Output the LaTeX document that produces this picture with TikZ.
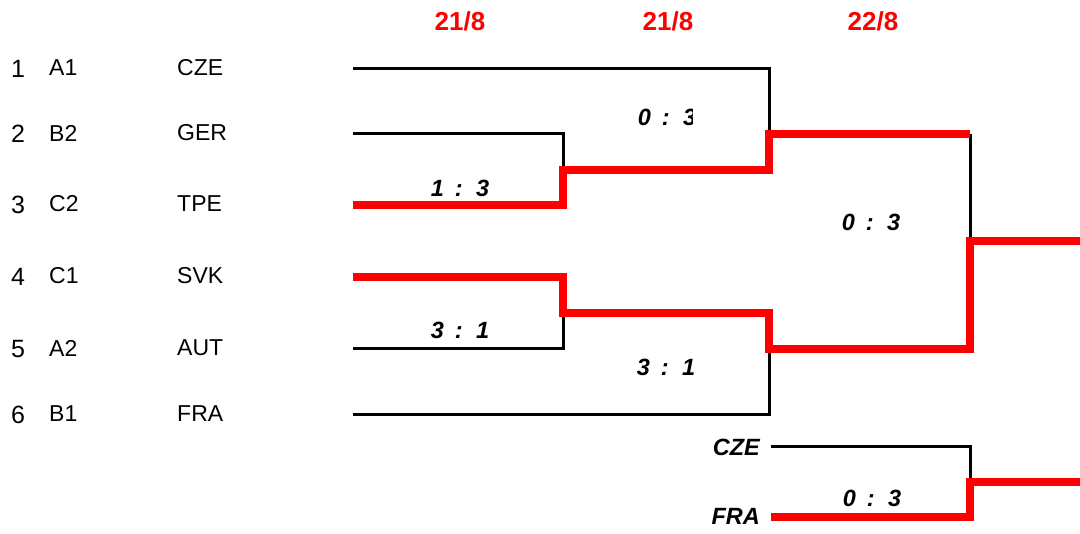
\documentclass[tikz,border=0pt]{standalone}
\usepackage{fontspec}
\setmainfont{Liberation Sans}
\usetikzlibrary{positioning}

\newcommand{\res}[2]{#1\hspace{4.5pt} : \hspace{4.5pt}#2}

\begin{document}
\begin{tikzpicture}[x=1pt,y=-1pt,
  every node/.style={font=\fontsize{23}{27}\selectfont, inner sep=0pt},
  team/.style={anchor=west},
  seed/.style={font=\fontsize{25}{29}\selectfont},
  score/.style={font=\fontsize{23.5}{27}\selectfont\bfseries\itshape},
  day/.style={font=\fontsize{26}{30}\selectfont\bfseries, text=red},
  lost/.style={line width=3pt},
  won/.style={line width=8pt, red}]
\useasboundingbox (0,0) rectangle (1080,534);

% match days
\node[day] (d1) at (460,21) {21/8};
\node[day] (d2) at (668,21) {21/8};
\node[day] (d3) at (873,21) {22/8};

% draw order
\foreach \n/\g/\t/\y in {1/A1/CZE/69, 2/B2/GER/134, 3/C2/TPE/205,
                        4/C1/SVK/277, 5/A2/AUT/349, 6/B1/FRA/415}{
  \node[seed] (n\n) at (18,\y) {\n};
  \node[team] (g\n) at (49,\y-1) {\g};
  \node[team] (t\n) at (177,\y-1) {\t};
  \coordinate (s\n) at (353,\y);
}

% winners' points
\coordinate (wA) at (563,170);
\coordinate (wB) at (563,313);
\coordinate (wC) at (769,134);
\coordinate (wD) at (769,349);
\coordinate (cF) at (970,134);
\coordinate (wF) at (970,241);
\coordinate (eF) at (1080,241);

% bronze match
\node[score, anchor=east] (b1) at (760,447) {CZE};
\node[score, anchor=east] (b2) at (760,516) {FRA};
\coordinate (s7) at (771,447);
\coordinate (s8) at (771,517);
\coordinate (w3) at (970,482);
\coordinate (e3) at (1080,482);

\draw[lost] (s1) -| (wC);
\draw[lost] (s2) -| (wA);
\draw[lost] (s5) -| (wB);
\draw[lost] (s6) -| (wD);
\draw[lost] (cF) -- (wF);
\draw[lost] (s7) -| (w3);

\draw[won] (s3) -| (wA) -| (wC) -- (cF);
\draw[won] (s4) -| (wB) -| (wD) -| (wF) -- (eF);
\draw[won] (s8) -| (w3) -- (e3);

% results
\node[score] (rA) at (460,188) {\res{1}{3}};
\node[score] (rB) at (460,330) {\res{3}{1}};
\begin{scope}
  \clip (600,90) rectangle (692,140);
  \node[score] (rC) at (667,117) {\res{0}{3}};
\end{scope}
\node[score] (rD) at (666,367) {\res{3}{1}};
\node[score] (rF) at (871,222) {\res{0}{3}};
\node[score] (r3) at (872,498) {\res{0}{3}};
\end{tikzpicture}
\end{document}
